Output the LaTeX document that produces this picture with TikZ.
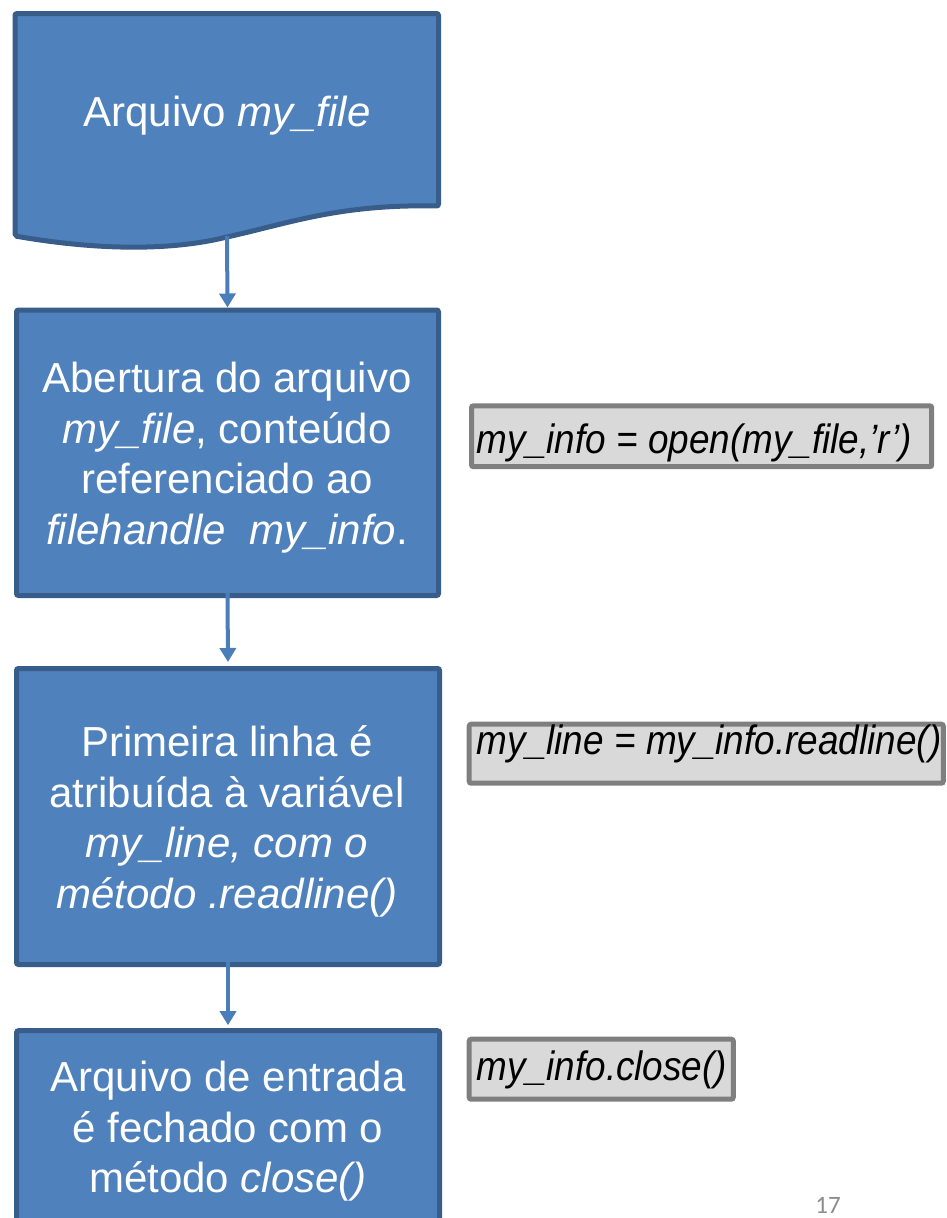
\documentclass[tikz,border=0pt]{standalone}
\usepackage{fontspec}
\usepackage{graphicx}
\setmainfont{Liberation Sans}
\newfontfamily\pagenumfont{Carlito}
\usetikzlibrary{arrows.meta}
\definecolor{boxfill}{HTML}{4F81BD}
\definecolor{boxline}{HTML}{385D8A}
\definecolor{flow}{HTML}{4A7EBB}
\definecolor{codefill}{HTML}{D9D9D9}
\definecolor{codeline}{HTML}{7F7F7F}
\definecolor{pagegray}{HTML}{8C8C8C}

\begin{document}
\begin{tikzpicture}[x=1pt,y=-1pt,
  stepbox/.style={draw=boxline, fill=boxfill, line width=5pt, rounded corners=2pt, inner sep=0pt},
  steptext/.style={text=white, align=center, font=\fontsize{42}{50.5}\selectfont, inner sep=0pt},
  codebox/.style={draw=codeline, fill=codefill, line width=5pt, rounded corners=2pt, inner sep=0pt},
  codetext/.style={anchor=base west, inner sep=0pt, font=\fontsize{41}{49}\selectfont\itshape},
  flowarrow/.style={draw=flow, line width=4pt, -{Triangle[width=16pt,length=14pt]}}]
\clip (0,0) rectangle (947,1218);

% document-shaped first step
\path[stepbox] (15,13.5) -- (438.5,13.5) -- (438.5,206)
  .. controls (340,204) and (290,223) .. (227,237)
  .. controls (165,252) and (90,249) .. (15,236) -- cycle;
\node[steptext, anchor=base] (t1) at (227,126) {Arquivo \textit{my\_file}};
\coordinate (docout) at (227,236);

% process steps
\node[stepbox, minimum width=422pt, minimum height=285.5pt] (box2) at (227.5,452.75) {};
\node[steptext] (t2) at (227,457.5) {Abertura do arquivo\\ \textit{my\_file}, conteúdo\\ referenciado ao\\ \textit{filehandle}\ \ \textit{my\_info}.};

\node[stepbox, minimum width=423pt, minimum height=296pt] (box3) at (228,816.5) {};
\node[steptext] (t3) at (227,821.5) {Primeira linha é\\ atribuída à variável\\ \textit{my\_line, com o}\\ \textit{método .readline()}};

\node[stepbox, minimum width=423pt, minimum height=300pt] (box4) at (228,1180.7) {};
\node[steptext] (t4) at (228,1131.5) {Arquivo de entrada\\ é fechado com o\\ método \textit{close()}};

% connectors
\draw[flowarrow] (docout) -- (box2.north);
\draw[flowarrow, shorten >=4pt] ([yshift=5pt]box2.south) -- (box3.north);
\draw[flowarrow, shorten >=3pt] ([yshift=5pt]box3.south) -- (box4.north);

% code statements
\node[codebox, minimum width=460.2pt, minimum height=60.9pt] (ca) at (701.6,436.25) {};
\node[codetext] (cat) at (476.7,453.3) {\scalebox{0.9}[1]{my\_info = open(my\_file,’r’)}};

\node[codebox, minimum width=474.1pt, minimum height=59pt] (cb) at (706.25,753.7) {};
\node[codetext] (cbt) at (476.7,754.3) {\scalebox{0.9}[1]{my\_line = my\_info.readline()}};

\node[codebox, minimum width=264.1pt, minimum height=60pt] (cc) at (601.25,1069.2) {};
\node[codetext] (cct) at (476.7,1080) {\scalebox{0.9}[1]{my\_info.close()}};

% page number
\node[anchor=base, text=pagegray, font=\pagenumfont\fontsize{25}{30}\selectfont, inner sep=0pt] (pg) at (828,1213) {17};
\end{tikzpicture}
\end{document}
